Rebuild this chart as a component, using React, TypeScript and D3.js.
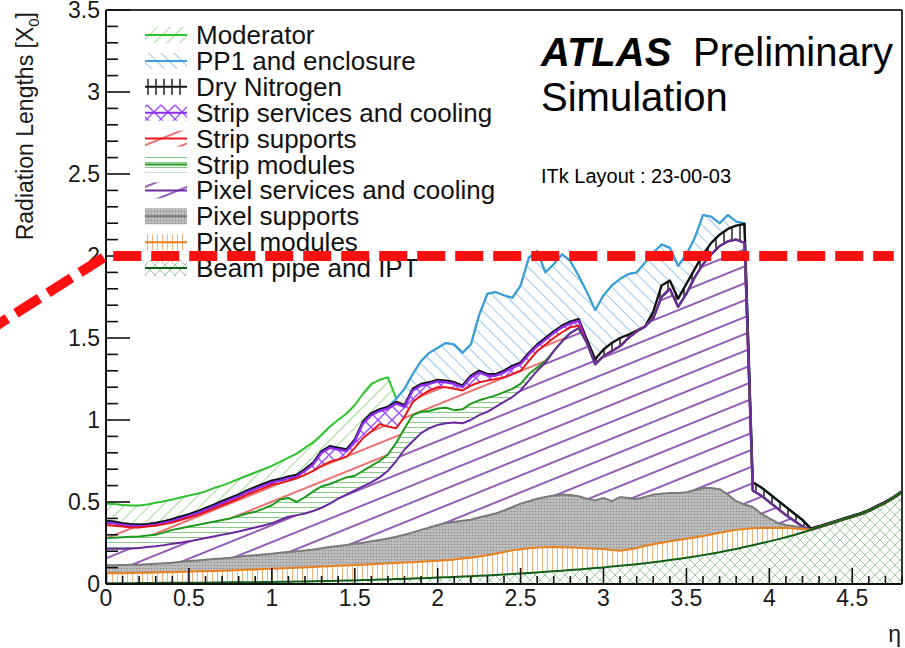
import React, { useMemo } from "react";
import * as d3 from "d3";

// η bin positions, 0 to 4.8 in steps of 0.05
const etaBins: number[] = d3.range(0, 97).map((i) => Math.round(i * 5) / 100);

// Stacked (cumulative) radiation length in X0 at each η bin, from the bottom layer up.
// null means the layer adds nothing there (it sits on the layer below).
const beamPipeLevel = [
  0.005, 0.005, 0.005, 0.005, 0.006, 0.006, 0.006, 0.007, 0.007, 0.007,
  0.008, 0.008, 0.008, 0.009, 0.009, 0.01, 0.01, 0.011, 0.011, 0.012,
  0.012, 0.013, 0.014, 0.015, 0.016, 0.017, 0.018, 0.019, 0.02, 0.021,
  0.022, 0.024, 0.025, 0.027, 0.028, 0.03, 0.031, 0.033, 0.035, 0.037,
  0.039, 0.041, 0.043, 0.045, 0.047, 0.05, 0.052, 0.055, 0.058, 0.061,
  0.064, 0.067, 0.07, 0.074, 0.077, 0.081, 0.085, 0.089, 0.093, 0.097,
  0.101, 0.106, 0.111, 0.116, 0.121, 0.127, 0.133, 0.139, 0.146, 0.153,
  0.16, 0.168, 0.176, 0.185, 0.194, 0.204, 0.214, 0.225, 0.236, 0.248,
  0.26, 0.272, 0.285, 0.299, 0.314, 0.33, 0.346, 0.362, 0.378, 0.394,
  0.41, 0.425, 0.445, 0.47, 0.495, 0.525, 0.56,
];

const pixelModulesLevel = [
  0.065, 0.066, 0.066, 0.067, 0.068, 0.069, 0.07, 0.071, 0.072, 0.074,
  0.075, 0.077, 0.078, 0.08, 0.081, 0.083, 0.085, 0.087, 0.089, 0.091,
  0.093, 0.095, 0.097, 0.099, 0.101, 0.104, 0.106, 0.108, 0.111, 0.113,
  0.116, 0.118, 0.121, 0.123, 0.126, 0.128, 0.131, 0.133, 0.136, 0.138,
  0.141, 0.145, 0.15, 0.155, 0.16, 0.168, 0.175, 0.185, 0.195, 0.205,
  0.212, 0.218, 0.222, 0.224, 0.225, 0.224, 0.222, 0.221, 0.218, 0.215,
  0.213, 0.207, 0.203, 0.21, 0.22, 0.232, 0.243, 0.252, 0.26, 0.268,
  0.276, 0.284, 0.292, 0.302, 0.312, 0.322, 0.33, 0.336, 0.34, 0.341,
  0.342, 0.342, 0.341, 0.339, 0.336,
];

const pixelSupportsLevel = [
  0.115, 0.115, 0.116, 0.117, 0.118, 0.12, 0.123, 0.126, 0.13, 0.135,
  0.14, 0.144, 0.148, 0.152, 0.156, 0.16, 0.166, 0.172, 0.176, 0.18,
  0.185, 0.19, 0.195, 0.2, 0.205, 0.21, 0.218, 0.225, 0.232, 0.238,
  0.245, 0.252, 0.26, 0.268, 0.278, 0.288, 0.3, 0.315, 0.33, 0.345,
  0.36, 0.372, 0.38, 0.385, 0.392, 0.405, 0.418, 0.43, 0.448, 0.468,
  0.49, 0.505, 0.52, 0.53, 0.54, 0.545, 0.543, 0.535, 0.52, 0.51,
  0.525, 0.505, 0.53, 0.525, 0.518, 0.53, 0.545, 0.55, 0.555, 0.555,
  0.56, 0.572, 0.585, 0.585, 0.578, 0.545, 0.505, 0.485, 0.47, 0.43,
  0.4, 0.372, 0.36, 0.352, 0.342,
];

const pixelServicesLevel = [
  0.215, 0.215, 0.215, 0.217, 0.22, 0.225, 0.23, 0.237, 0.245, 0.252,
  0.26, 0.27, 0.28, 0.29, 0.3, 0.31, 0.32, 0.332, 0.345, 0.357,
  0.37, 0.39, 0.41, 0.42, 0.43, 0.445, 0.465, 0.49, 0.52, 0.545,
  0.57, 0.595, 0.62, 0.65, 0.69, 0.75, 0.82, 0.87, 0.92, 0.95,
  0.97, 0.98, 0.985, 0.98, 1.0, 1.03, 1.05, 1.08, 1.11, 1.14,
  1.18, 1.24, 1.3, 1.35, 1.42, 1.48, 1.53, 1.56, 1.47, 1.34,
  1.39, 1.42, 1.45, 1.5, 1.54, 1.57, 1.62, 1.75, 1.8, 1.69,
  1.77, 1.87, 1.95, 2.01, 2.06, 2.09, 2.1, 2.08, 0.57, 0.54,
  0.5, 0.46, 0.42, 0.385, 0.35,
];

const stripModulesLevel = [
  0.28, 0.282, 0.285, 0.288, 0.29, 0.295, 0.3, 0.315, 0.33, 0.34,
  0.35, 0.36, 0.37, 0.38, 0.39, 0.4, 0.415, 0.43, 0.44, 0.46,
  0.48, 0.515, 0.525, 0.5, 0.53, 0.565, 0.595, 0.61, 0.63, 0.65,
  0.66, 0.69, 0.72, 0.75, 0.79, 0.86, 0.95, 1.03, 1.05, 1.055,
  1.07, 1.075, 1.06, 1.065, 1.1, 1.12, 1.135, 1.15, 1.17, 1.19,
  1.22, 1.28, 1.32, 1.36,
];

const stripSupportsLevel = [
  0.36, 0.355, 0.35, 0.345, 0.345, 0.35, 0.355, 0.365, 0.375, 0.39,
  0.405, 0.42, 0.44, 0.46, 0.48, 0.5, 0.52, 0.545, 0.565, 0.585,
  0.605, 0.615, 0.63, 0.645, 0.665, 0.69, 0.72, 0.745, 0.76, 0.775,
  0.83, 0.89, 0.93, 0.975, 0.96, 0.95, 1.02, 1.11, 1.15, 1.18,
  1.2, 1.2, 1.19, 1.18, 1.21, 1.23, 1.24, 1.25, 1.26, 1.28,
  1.3, 1.36, 1.42, 1.46, 1.5, 1.535, 1.565, 1.575,
];

const stripServicesLevel = [
  0.375, 0.37, 0.36, 0.355, 0.352, 0.355, 0.362, 0.372, 0.385, 0.4,
  0.415, 0.432, 0.452, 0.472, 0.495, 0.515, 0.535, 0.56, 0.58, 0.6,
  0.62, 0.63, 0.645, 0.655, 0.69, 0.73, 0.8, 0.83, 0.82, 0.81,
  0.87, 0.98, 1.03, 1.055, 1.07, 1.1, 1.08, 1.18, 1.21, 1.22,
  1.235, 1.23, 1.22, 1.2, 1.26, 1.29, 1.27, 1.27, 1.29, 1.32,
  1.34, 1.4, 1.45, 1.49, 1.53, 1.565, 1.59, 1.605,
];

const dryNitrogenLevel = [
  0.385, 0.38, 0.37, 0.365, 0.362, 0.365, 0.372, 0.382, 0.395, 0.41,
  0.425, 0.442, 0.462, 0.482, 0.505, 0.525, 0.545, 0.57, 0.59, 0.61,
  0.63, 0.64, 0.655, 0.665, 0.7, 0.74, 0.81, 0.84, 0.83, 0.82,
  0.88, 0.99, 1.04, 1.065, 1.08, 1.11, 1.09, 1.19, 1.22, 1.23,
  1.245, 1.24, 1.23, 1.21, 1.27, 1.3, 1.28, 1.28, 1.3, 1.33,
  1.35, 1.41, 1.46, 1.5, 1.54, 1.575, 1.6, 1.615, 1.49, 1.37,
  1.43, 1.47, 1.5, 1.52, 1.545, 1.57, 1.66, 1.82, 1.85, 1.74,
  1.83, 1.92, 2.01, 2.08, 2.13, 2.165, 2.185, 2.195, 0.62, 0.59,
  0.55, 0.51, 0.47, 0.43, 0.39, 0.338, 0.352, 0.368, 0.384, 0.4,
  0.416, 0.431, 0.451, 0.476, 0.501, 0.531, 0.566,
];

const pp1Level = [
  null, null, null, null, null, null, null, null, null, null,
  null, null, null, null, null, null, null, null, null, null,
  null, null, null, null, null, null, null, null, null, null,
  null, null, null, null, null, 1.13, 1.19, 1.28, 1.36, 1.41,
  1.44, 1.47, 1.46, 1.41, 1.46, 1.64, 1.77, 1.78, 1.76, 1.745,
  1.82, 1.99, 2.03, 1.9, 1.95, 2.01, 1.97, 1.88, 1.78, 1.67,
  1.76, 1.82, 1.86, 1.89, 1.9, 1.96, 2.02, 2.07, 2.05, 1.94,
  2.01, 2.11, 2.25, 2.24, 2.2, 2.25, 2.21, 2.2,
];

const moderatorLevel = [
  0.49, 0.488, 0.482, 0.478, 0.478, 0.485, 0.495, 0.505, 0.515, 0.527,
  0.54, 0.55, 0.565, 0.585, 0.6, 0.62, 0.64, 0.66, 0.68, 0.7,
  0.72, 0.745, 0.77, 0.795, 0.83, 0.865, 0.91, 0.96, 1.0, 1.04,
  1.09, 1.16, 1.22, 1.245, 1.26,
];

const layerNames = [
  "Beam pipe and IPT",
  "Pixel modules",
  "Pixel supports",
  "Pixel services and cooling",
  "Strip modules",
  "Strip supports",
  "Strip services and cooling",
  "Dry Nitrogen",
  "PP1 and enclosure",
  "Moderator",
];

const xTickValues = [0, 0.5, 1, 1.5, 2, 2.5, 3, 3.5, 4, 4.5];
const xTickLabels = ["0", "0.5", "1", "1.5", "2", "2.5", "3", "3.5", "4", "4.5"];
const yTickValues = [0, 0.5, 1, 1.5, 2, 2.5, 3, 3.5];
const yTickLabels = ["0", "0.5", "1", "1.5", "2", "2.5", "3", "3.5"];

// 2 X0 reference level, with its leader coming in from the left margin
const limitLevel = 2;
const limitPoints: [number, number][] = [
  [-0.67, 1.57],
  [0, limitLevel],
  [4.75, limitLevel],
];

const FONT = "'Liberation Sans', Arial, Helvetica, sans-serif";
const W = 905;
const H = 648;
const PLOT = { left: 106, right: 902, top: 10, bottom: 584 };

type Layer = {
  name: string;
  level: (number | null)[];
  line: string;
  lineWidth: number;
  fill: string;
};

const layers: Layer[] = [
  { name: layerNames[0], level: beamPipeLevel, line: "#0f5f14", lineWidth: 2, fill: "url(#pBeam)" },
  { name: layerNames[1], level: pixelModulesLevel, line: "#e8801e", lineWidth: 2, fill: "url(#pPixMod)" },
  { name: layerNames[2], level: pixelSupportsLevel, line: "#7a7a7a", lineWidth: 2, fill: "url(#pPixSup)" },
  { name: layerNames[3], level: pixelServicesLevel, line: "#6a2a9e", lineWidth: 2, fill: "url(#pPixServ)" },
  { name: layerNames[4], level: stripModulesLevel, line: "#1e9a1e", lineWidth: 2, fill: "url(#pStripMod)" },
  { name: layerNames[5], level: stripSupportsLevel, line: "#e8161b", lineWidth: 2, fill: "url(#pStripSup)" },
  { name: layerNames[6], level: stripServicesLevel, line: "#8f2df0", lineWidth: 2.4, fill: "url(#pStripServ)" },
  { name: layerNames[7], level: dryNitrogenLevel, line: "#111111", lineWidth: 2.4, fill: "url(#pDryN)" },
  { name: layerNames[8], level: pp1Level, line: "#3d9be9", lineWidth: 2, fill: "url(#pPP1)" },
  { name: layerNames[9], level: moderatorLevel, line: "#2fc22f", lineWidth: 2, fill: "url(#pModerator)" },
];

function Patterns() {
  return (
    <defs>
      <clipPath id="plotClip">
        <rect x={PLOT.left} y={PLOT.top} width={PLOT.right - PLOT.left} height={PLOT.bottom - PLOT.top} />
      </clipPath>
      <pattern id="pModerator" patternUnits="userSpaceOnUse" width={9} height={9} patternTransform="rotate(45)">
        <line x1={4.5} y1={0} x2={4.5} y2={9} stroke="#a3dd9b" strokeWidth={1} />
      </pattern>
      <pattern id="pPP1" patternUnits="userSpaceOnUse" width={9} height={9} patternTransform="rotate(-45)">
        <line x1={4.5} y1={0} x2={4.5} y2={9} stroke="#9cc8ee" strokeWidth={1} />
      </pattern>
      <pattern id="pDryN" patternUnits="userSpaceOnUse" width={8} height={10}>
        <line x1={4} y1={0} x2={4} y2={10} stroke="#111" strokeWidth={1.4} />
      </pattern>
      <pattern id="pStripServ" patternUnits="userSpaceOnUse" width={14} height={14}>
        <path d="M0,0 L14,14 M14,0 L0,14" stroke="#9b4dff" strokeWidth={1.4} fill="none" />
      </pattern>
      <pattern id="pStripSup" patternUnits="userSpaceOnUse" width={20} height={14} patternTransform="rotate(-22)">
        <line x1={0} y1={7} x2={20} y2={7} stroke="#e33535" strokeWidth={1.4} />
      </pattern>
      <pattern id="pStripMod" patternUnits="userSpaceOnUse" width={10} height={5}>
        <line x1={0} y1={2.5} x2={10} y2={2.5} stroke="#86cc86" strokeWidth={1} />
      </pattern>
      <pattern id="pPixServ" patternUnits="userSpaceOnUse" width={20} height={15.7} patternTransform="rotate(-22)">
        <line x1={0} y1={7.85} x2={20} y2={7.85} stroke="#6e2aa0" strokeWidth={1.5} />
      </pattern>
      <pattern id="pPixSup" patternUnits="userSpaceOnUse" width={3} height={3}>
        <rect x={0} y={0} width={3} height={3} fill="#bdbdbd" />
        <circle cx={1.5} cy={1.5} r={0.75} fill="#8a8a8a" />
      </pattern>
      <pattern id="pPixMod" patternUnits="userSpaceOnUse" width={5} height={10}>
        <line x1={2.5} y1={0} x2={2.5} y2={10} stroke="#f4b27a" strokeWidth={1} />
      </pattern>
      <pattern id="pBeam" patternUnits="userSpaceOnUse" width={10} height={10}>
        <path d="M0,0 L10,10 M10,0 L0,10" stroke="#8cc08c" strokeWidth={0.8} fill="none" />
      </pattern>
    </defs>
  );
}

export default function App() {
  const x = d3.scaleLinear().domain([0, 4.8]).range([PLOT.left, PLOT.right]);
  const y = d3.scaleLinear().domain([0, 3.5]).range([PLOT.bottom, PLOT.top]);

  // Running stack: each layer's top, never below the layer underneath it.
  const stacked = useMemo(() => {
    const out: number[][] = [];
    layers.forEach((layer, i) => {
      const below = i === 0 ? etaBins.map(() => 0) : out[i - 1];
      out.push(
        etaBins.map((_, j) => {
          const v = layer.level[j];
          return v == null ? below[j] : Math.max(v, below[j]);
        })
      );
    });
    return out;
  }, []);

  const bandPaths = stacked.map((top, i) => {
    const lower = i === 0 ? etaBins.map(() => 0) : stacked[i - 1];
    const area = d3
      .area<number>()
      .x((_, j) => x(etaBins[j]))
      .y0((_, j) => y(lower[j]))
      .y1((d) => y(d));
    return area(top) || "";
  });

  const linePaths = stacked.map((top) => {
    const line = d3
      .line<number>()
      .x((_, j) => x(etaBins[j]))
      .y((d) => y(d));
    return line(top) || "";
  });

  const yMinor = d3.range(0, 36).map((i) => i / 10);
  const xMinor = d3.range(0, 49).map((i) => i / 10);
  const isMajor = (t: number) => Math.abs(t * 2 - Math.round(t * 2)) < 1e-6;

  const limitPath = d3.line<[number, number]>().x((d) => x(d[0])).y((d) => y(d[1]))(limitPoints) || "";

  const legendRows = [...layers].reverse();

  return (
    <svg
      width={W}
      height={H}
      style={{ position: "absolute", left: 0, top: 0, background: "#ffffff" }}
      fontFamily={FONT}
    >
      <Patterns />
      <rect x={0} y={0} width={W} height={H} fill="#ffffff" />

      <g clipPath="url(#plotClip)">
        {bandPaths.map((d, i) => (
          <path key={`band-${i}`} d={d} fill={layers[i].fill} stroke="none" />
        ))}
        {linePaths
          .map((d, i) => ({ d, i }))
          .reverse()
          .map(({ d, i }) => (
            <path
              key={`line-${i}`}
              d={d}
              fill="none"
              stroke={layers[i].line}
              strokeWidth={layers[i].lineWidth}
              strokeLinejoin="round"
            />
          ))}
      </g>

      {/* frame */}
      <line x1={PLOT.left} y1={PLOT.top} x2={PLOT.right} y2={PLOT.top} stroke="#333" strokeWidth={2} />
      <line x1={PLOT.right} y1={PLOT.top} x2={PLOT.right} y2={PLOT.bottom} stroke="#333" strokeWidth={2} />
      <line x1={PLOT.left} y1={PLOT.top} x2={PLOT.left} y2={PLOT.bottom} stroke="#111" strokeWidth={2} />
      <line x1={PLOT.left} y1={PLOT.bottom} x2={PLOT.right} y2={PLOT.bottom} stroke="#111" strokeWidth={2} />

      {/* y ticks */}
      {yMinor.map((t) => (
        <line
          key={`yt-${t}`}
          x1={PLOT.left}
          x2={PLOT.left + (isMajor(t) ? 24 : 12)}
          y1={y(t)}
          y2={y(t)}
          stroke="#111"
          strokeWidth={1.6}
        />
      ))}
      {yTickValues.map((t, i) => (
        <text key={`yl-${t}`} x={100} y={y(t) + 8} textAnchor="end" fontSize={23} fill="#1a1a1a">
          {yTickLabels[i]}
        </text>
      ))}

      {/* x ticks */}
      {xMinor.map((t) => (
        <line
          key={`xt-${t}`}
          x1={x(t)}
          x2={x(t)}
          y1={PLOT.bottom}
          y2={PLOT.bottom - (isMajor(t) ? 16 : 8)}
          stroke="#111"
          strokeWidth={1.6}
        />
      ))}
      {xTickValues.map((t, i) => (
        <text key={`xl-${t}`} x={x(t)} y={606} textAnchor="middle" fontSize={23} fill="#1a1a1a">
          {xTickLabels[i]}
        </text>
      ))}

      {/* axis titles */}
      <text transform="translate(33,12) rotate(-90)" textAnchor="end" fontSize={23} fill="#1a1a1a">
        Radiation Lengths [X
        <tspan fontSize={15} dy={6}>
          0
        </tspan>
        <tspan dy={-6}>]</tspan>
      </text>
      <text x={901} y={642} textAnchor="end" fontSize={23} fill="#1a1a1a">
        η
      </text>

      {/* legend */}
      {legendRows.map((layer, k) => {
        const cy = 35 + k * 25.9;
        return (
          <g key={`leg-${k}`}>
            <rect x={145} y={cy - 8} width={42} height={16} fill={layer.fill} />
            <line x1={145} x2={187} y1={cy} y2={cy} stroke={layer.line} strokeWidth={2} />
            <text x={196} y={cy + 9} fontSize={26} fill="#111">
              {layer.name}
            </text>
          </g>
        );
      })}

      {/* labels */}
      <text x={541} y={66} fontSize={40} fontWeight="bold" fontStyle="italic" fill="#000">
        ATLAS
      </text>
      <text x={693} y={66} fontSize={40} fill="#000">
        Preliminary
      </text>
      <text x={541} y={111} fontSize={40} fill="#000">
        Simulation
      </text>
      <text x={541} y={183} fontSize={20} fill="#000">
        ITk Layout : 23-00-03
      </text>

      {/* 2 X0 reference */}
      <path
        d={limitPath}
        fill="none"
        stroke="#ff1010"
        strokeWidth={10}
        strokeDasharray="28 10"
        strokeDashoffset={13.2}
      />
    </svg>
  );
}
